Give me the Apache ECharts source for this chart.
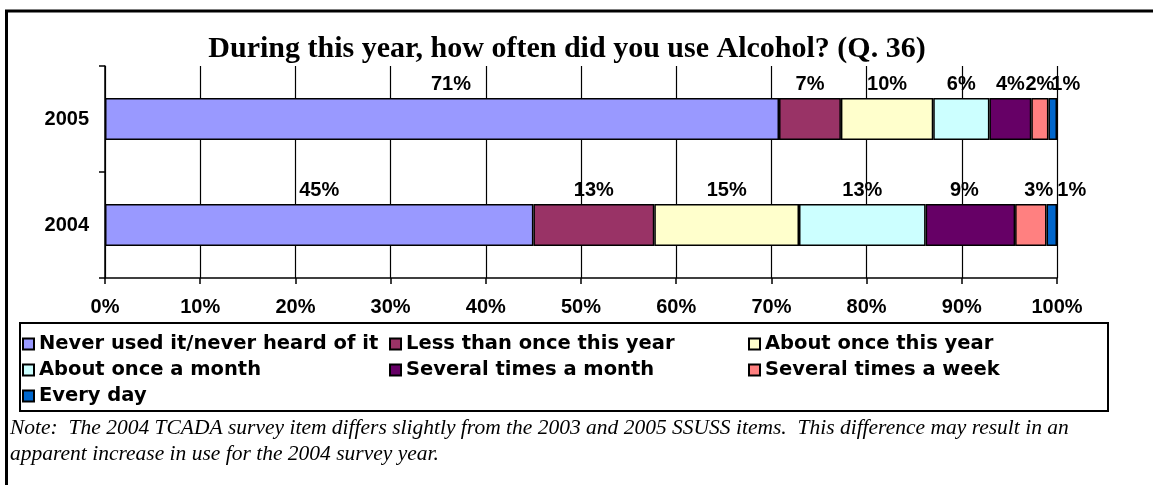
<!DOCTYPE html>
<html>
<head>
<meta charset="utf-8">
<script src="https://cdn.jsdelivr.net/npm/echarts@6/dist/echarts.min.js"></script>
<style>
html,body{margin:0;padding:0;background:#fff;}
#chart{width:1153px;height:485px;}
</style>
</head>
<body>
<div id="chart"></div>
<script>
// ---- data ----
var years = ['2005', '2004'];
var seriesNames = [
  'Never used it/never heard of it',
  'Less than once this year',
  'About once this year',
  'About once a month',
  'Several times a month',
  'Several times a week',
  'Every day'
];
var neverUsed        = [70.8, 45.0];
var lessThanOnce     = [6.5, 12.7];
var aboutOnceYear    = [9.7, 15.2];
var aboutOnceMonth   = [5.9, 13.3];
var severalMonth     = [4.4, 9.4];
var severalWeek      = [1.8, 3.3];
var everyDay         = [0.9, 1.1];
var xTicks = [0, 10, 20, 30, 40, 50, 60, 70, 80, 90, 100];
var titleText = 'During this year, how often did you use Alcohol? (Q. 36)';
var noteLine1 = 'Note:  The 2004 TCADA survey item differs slightly from the 2003 and 2005 SSUSS items.  This difference may result in an';
var noteLine2 = 'apparent increase in use for the 2004 survey year.';

// ---- styles ----
var values = [neverUsed, lessThanOnce, aboutOnceYear, aboutOnceMonth, severalMonth, severalWeek, everyDay];
var colors = ['#9999FF', '#993366', '#FFFFCC', '#CCFFFF', '#660066', '#FF8080', '#0066CC'];
var labelNudge = [[9, 0], [0, 0], [0, 0], [0, 0], [0, -6], [0, 8], [13, 20]];

var series = seriesNames.map(function (name, si) {
  return {
    name: name,
    type: 'bar',
    stack: 'total',
    barWidth: 42,
    itemStyle: { color: colors[si], borderColor: '#000', borderWidth: 1.5 },
    label: {
      show: true,
      position: 'top',
      distance: 4,
      color: '#000',
      fontFamily: 'Liberation Sans, Arial, sans-serif',
      fontWeight: 'bold',
      fontSize: 20,
      formatter: function (p) { return Math.round(p.value) + '%'; }
    },
    data: values[si].map(function (v, ci) {
      return { value: v, label: { offset: [labelNudge[si][ci], 0] } };
    })
  };
});

var legendText = {
  color: '#000',
  fontFamily: 'DejaVu Sans, sans-serif',
  fontWeight: 'bold',
  fontSize: 19.5,
  lineHeight: 22
};
function makeLegend(items, left) {
  return {
    data: items,
    orient: 'vertical',
    left: left,
    top: 333,
    itemWidth: 11,
    itemHeight: 11,
    itemGap: 4,
    icon: 'rect',
    padding: 0,
    textStyle: legendText,
    selectedMode: false
  };
}

var chart = echarts.init(document.getElementById('chart'), null, { renderer: 'canvas' });
chart.setOption({
  animation: false,
  backgroundColor: '#fff',
  title: {
    text: titleText,
    left: 567,
    textAlign: 'center',
    top: 34,
    padding: 0,
    textStyle: {
      fontFamily: 'Liberation Serif, Times New Roman, serif',
      fontWeight: 'bold',
      fontSize: 30,
      color: '#000'
    }
  },
  legend: [
    makeLegend([seriesNames[0], seriesNames[3], seriesNames[6]], 22),
    makeLegend([seriesNames[1], seriesNames[4]], 389),
    makeLegend([seriesNames[2], seriesNames[5]], 748)
  ],
  grid: { left: 105, right: 96, top: 66, bottom: 207, containLabel: false },
  xAxis: {
    type: 'value',
    min: 0,
    max: 100,
    interval: 10,
    axisLine: { show: true, lineStyle: { color: '#000', width: 1.5 } },
    axisTick: { show: true, length: 6, lineStyle: { color: '#000', width: 1.5 } },
    splitLine: { show: true, lineStyle: { color: '#000', width: 1.2 } },
    axisLabel: {
      margin: 19,
      color: '#000',
      fontFamily: 'Liberation Sans, Arial, sans-serif',
      fontWeight: 'bold',
      fontSize: 20,
      formatter: function (v) { return xTicks.indexOf(v) >= 0 ? v + '%' : ''; }
    }
  },
  yAxis: {
    type: 'category',
    data: years,
    inverse: true,
    axisLine: { show: true, lineStyle: { color: '#000', width: 1.5 } },
    axisTick: { show: true, length: 6, lineStyle: { color: '#000', width: 1.5 } },
    axisLabel: {
      margin: 16,
      color: '#000',
      fontFamily: 'Liberation Sans, Arial, sans-serif',
      fontWeight: 'bold',
      fontSize: 20
    }
  },
  series: series,
  graphic: [
    { type: 'line', shape: { x1: 5, y1: 11, x2: 1153, y2: 11 }, style: { stroke: '#000', lineWidth: 3 } },
    { type: 'line', shape: { x1: 6.5, y1: 10, x2: 6.5, y2: 485 }, style: { stroke: '#000', lineWidth: 3 } },
    { type: 'rect', shape: { x: 20, y: 323, width: 1088, height: 88 }, style: { fill: 'none', stroke: '#000', lineWidth: 2 } },
    { type: 'text', left: 10, top: 417, style: { text: noteLine1, fill: '#000', font: 'italic 21.5px "Liberation Serif", "Times New Roman", serif' } },
    { type: 'text', left: 10, top: 443, style: { text: noteLine2, fill: '#000', font: 'italic 21.5px "Liberation Serif", "Times New Roman", serif' } }
  ]
});
</script>
</body>
</html>
